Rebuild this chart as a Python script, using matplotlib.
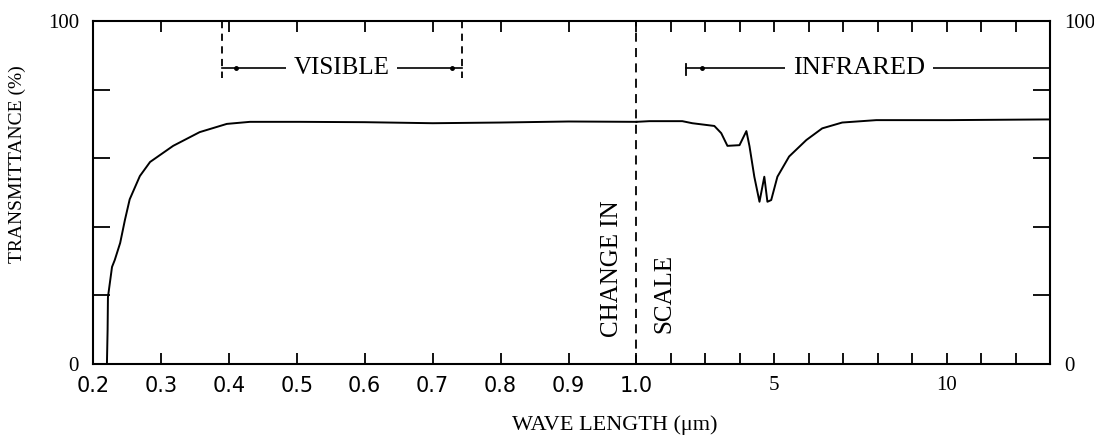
import numpy as np
import matplotlib
matplotlib.use("Agg")
import matplotlib.pyplot as plt

# ---------------- data ----------------
# visible / UV part (linear scale 0.2 - 1.0 um)
wl_vis = [0.2205, 0.2215, 0.222, 0.228, 0.232, 0.240, 0.247, 0.254, 0.269, 0.284,
          0.318, 0.357, 0.397, 0.431, 0.504, 0.60, 0.70, 0.80, 0.90, 1.0]
tr_vis = [0.0, 10.0, 19.5, 28.3, 30.3, 35.3, 42.0, 48.0, 54.8, 58.9,
          63.6, 67.6, 70.0, 70.6, 70.6, 70.5, 70.2, 70.4, 70.7, 70.6]
# infrared part (linear scale 1 - 13 um)
wl_ir = [1.0, 1.377, 2.33, 2.62, 3.26, 3.46, 3.64, 3.99, 4.19, 4.28, 4.42, 4.57,
         4.71, 4.80, 4.91, 5.09, 5.43, 5.93, 6.39, 6.97, 7.96, 10.07, 12.91, 13.0]
tr_ir = [70.6, 70.8, 70.8, 70.2, 69.4, 67.3, 63.6, 63.8, 67.9, 63.5, 54.6, 47.3,
         54.6, 47.3, 47.8, 54.6, 60.5, 65.3, 68.7, 70.4, 71.1, 71.1, 71.3, 71.3]

x_ticks = [0.2, 0.3, 0.4, 0.5, 0.6, 0.7, 0.8, 0.9, 1.0,
           2, 3, 4, 5, 6, 7, 8, 9, 10, 11, 12]
x_ticklabels = ["0.2", "0.3", "0.4", "0.5", "0.6", "0.7", "0.8", "0.9", "1.0",
                "", "", "", "5", "", "", "", "", "10", "", ""]
y_ticks = [0, 20, 40, 60, 80, 100]
y_ticklabels = ["0", "", "", "", "", "100"]

visible_range = (0.39, 0.743)
infrared_start = 2.45
scale_change = 1.0

# ---------------- piecewise-linear x scale ----------------
K = 0.5073  # units per um above 1.0 (0.1 um = 1 unit below 1.0)

def fwd(x):
    x = np.asarray(x, dtype=float)
    return np.where(x <= 1.0, (x - 0.2) * 10.0, 8.0 + (x - 1.0) * K)

def inv(u):
    u = np.asarray(u, dtype=float)
    return np.where(u <= 8.0, 0.2 + u / 10.0, 1.0 + (u - 8.0) / K)

sans = "DejaVu Sans"
serif = "Liberation Serif"
plt.rcParams["font.family"] = serif

fig = plt.figure(figsize=(10.94, 4.43), dpi=100)
ax = fig.add_axes([93 / 1094, (443 - 364) / 443, (1050 - 93) / 1094, (364 - 21) / 443])
ax.set_xscale("function", functions=(fwd, inv))
ax.set_xlim(0.2, 13.0)
ax.set_ylim(0, 100)

lw = 1.4
ax.plot(wl_vis, tr_vis, color="black", lw=lw)
ax.plot(wl_ir, tr_ir, color="black", lw=lw)

for s in ax.spines.values():
    s.set_linewidth(1.5)

ax.set_xticks(x_ticks)
ax.set_xticklabels(x_ticklabels)
ax.tick_params(axis="x", direction="in", length=8, width=1.3, top=True,
               pad=9, labelsize=15)
for lab in ax.get_xticklabels():
    if lab.get_text() in ("5", "10"):
        lab.set_fontfamily(serif)
        lab.set_fontsize(15)
    else:
        lab.set_fontfamily(sans)

ax.set_yticks(y_ticks)
ax.set_yticklabels(y_ticklabels)
ax.tick_params(axis="y", direction="in", length=12, width=1.3, right=True,
               labelright=True, labelsize=15, pad=10)

ax.set_ylabel("TRANSMITTANCE (%)", fontsize=14)
ax.yaxis.set_label_coords(-0.070, 0.583)
ax.set_xlabel("WAVE LENGTH (\u03bcm)", fontsize=16)
ax.xaxis.set_label_coords(0.545, -0.15)

# change of scale
ax.axvline(scale_change, color="black", lw=1.3, ls=(0, (5, 3.5)))
ax.text(0.9647, 7.9, "CHANGE IN", rotation=90, ha="center", va="bottom",
        fontsize=18, fontfamily=serif)
ax.text(1.81, 9.0, "SCALE", rotation=90, ha="center", va="bottom",
        fontsize=18, fontfamily=serif)

# visible bracket
y_br = 86.3
for xv in visible_range:
    ax.plot([xv, xv], [100, 83.4], color="black", lw=1.3, ls=(0, (4, 3)))
ax.plot(list(visible_range), [y_br, y_br], color="black", lw=1.2)
ax.plot([0.41, 0.728], [y_br, y_br], ls="none", marker="o", ms=2.5, color="black")
ax.text(0.566, y_br, "VISIBLE", ha="center", va="center", fontsize=18,
        bbox=dict(boxstyle="square,pad=0.3", fc="white", ec="none"))

# infrared bracket
ax.plot([infrared_start, 13.0], [y_br, y_br], color="black", lw=1.2)
ax.plot([infrared_start, infrared_start], [84.3, 87.5], color="black", lw=1.3)
ax.plot([2.9], [y_br], ls="none", marker="o", ms=2.5, color="black")
ax.text(7.46, y_br, "INFRARED", ha="center", va="center", fontsize=19,
        bbox=dict(boxstyle="square,pad=0.3", fc="white", ec="none"))

fig.savefig("out.png", dpi=100)
